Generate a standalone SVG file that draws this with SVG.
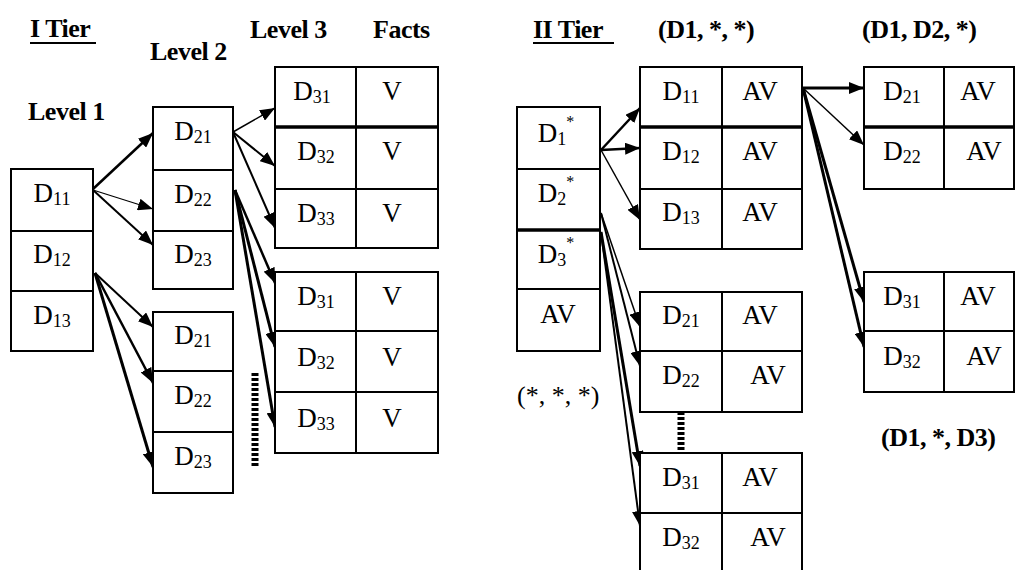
<svg xmlns="http://www.w3.org/2000/svg" width="1016" height="570" viewBox="0 0 1016 570">
<style>
.box{fill:#fff;stroke:#000;stroke-width:2}
.div{stroke:#000;stroke-width:2}
.thk{stroke:#000;stroke-width:3.5}
text{font-family:'Liberation Serif','Times New Roman','DejaVu Serif',serif;fill:#000}
.c{font-size:27px;text-anchor:middle}
.s{font-size:18px}
.lb{font-size:26px;font-weight:bold;letter-spacing:-0.5px}
.lr{font-size:26px}
.a{stroke:#000;fill:none;marker-end:url(#ah)}
.dot{stroke:#000;fill:none;stroke-dasharray:3 2}
</style>
<defs>
<marker id="ah" markerUnits="userSpaceOnUse" markerWidth="15" markerHeight="12" refX="15" refY="6" orient="auto">
<path d="M0,0 L15,6 L0,12 z" fill="#000"/>
</marker>
</defs>
<rect width="1016" height="570" fill="#fff"/>

<g id="labels">
<text class="lb" x="30" y="37">I Tier</text>
<line x1="30" y1="43" x2="96" y2="43" stroke="#000" stroke-width="2"/>
<text class="lb" x="150" y="60">Level 2</text>
<text class="lb" x="28" y="120">Level 1</text>
<text class="lb" x="250" y="38">Level 3</text>
<text class="lb" x="373" y="38">Facts</text>
<text class="lb" x="533" y="38">II Tier</text>
<line x1="533" y1="43" x2="614" y2="43" stroke="#000" stroke-width="2"/>
<text class="lb" x="658" y="38">(D1, *, *)</text>
<text class="lb" x="862" y="38">(D1, D2, *)</text>
<text class="lb" x="881" y="446">(D1, *, D3)</text>
<text class="lr" x="517" y="404">(*, *, *)</text>
</g>

<g id="connectors">
<path class="a" stroke-width="2.5" d="M93,189 L153,133"/>
<path class="a" stroke-width="1.2" d="M93,190 L153,209"/>
<path class="a" stroke-width="2" d="M93,190 L153,245"/>
<path class="a" stroke-width="2" d="M95,273 L153,327"/>
<path class="a" stroke-width="2.5" d="M95,273 L153,383"/>
<path class="a" stroke-width="3" d="M95,273 L153,467"/>
<path class="a" stroke-width="1.5" d="M233,132 L275,108"/>
<path class="a" stroke-width="2" d="M233,132 L275,166"/>
<path class="a" stroke-width="2" d="M233,132 L275,228"/>
<path class="a" stroke-width="2.5" d="M235,190 L275,283"/>
<path class="a" stroke-width="3" d="M235,190 L275,347"/>
<path class="a" stroke-width="3" d="M235,190 L275,427"/>
<path class="dot" stroke-width="7" d="M255,373 L255,468"/>

<path class="a" stroke-width="2.5" d="M601,150 L640,108"/>
<path class="a" stroke-width="2.5" d="M601,150 L640,148"/>
<path class="a" stroke-width="1.5" d="M601,150 L640,220"/>
<path class="a" stroke-width="1.5" d="M601,213 L640,327"/>
<path class="a" stroke-width="2" d="M601,213 L640,366"/>
<path class="a" stroke-width="3" d="M601,232 L640,466"/>
<path class="a" stroke-width="2" d="M601,232 L640,526"/>
<path class="dot" stroke-width="7" d="M681,412 L681,453"/>

<path class="a" stroke-width="3" d="M803,88 L864,88"/>
<path class="a" stroke-width="1.5" d="M803,88 L864,145"/>
<path class="a" stroke-width="3" d="M803,88 L864,302"/>
<path class="a" stroke-width="3" d="M803,88 L864,347"/>
</g>

<g id="level1">
<rect class="box" x="11" y="169" width="82" height="182"/>
<line class="div" x1="11" y1="231" x2="93" y2="231"/>
<line class="div" x1="11" y1="291" x2="93" y2="291"/>
<text class="c" x="52" y="202">D<tspan class="s" dy="3">11</tspan></text>
<text class="c" x="52" y="263">D<tspan class="s" dy="3">12</tspan></text>
<text class="c" x="52" y="324">D<tspan class="s" dy="3">13</tspan></text>
</g>

<g id="level2a">
<rect class="box" x="153" y="107" width="80" height="182"/>
<line class="div" x1="153" y1="170" x2="233" y2="170"/>
<line class="div" x1="153" y1="231" x2="233" y2="231"/>
<text class="c" x="193" y="140">D<tspan class="s" dy="3">21</tspan></text>
<text class="c" x="193" y="203">D<tspan class="s" dy="3">22</tspan></text>
<text class="c" x="193" y="263">D<tspan class="s" dy="3">23</tspan></text>
</g>

<g id="level2b">
<rect class="box" x="153" y="312" width="80" height="181"/>
<line class="div" x1="153" y1="371" x2="233" y2="371"/>
<line class="div" x1="153" y1="432" x2="233" y2="432"/>
<text class="c" x="193" y="344">D<tspan class="s" dy="3">21</tspan></text>
<text class="c" x="193" y="404">D<tspan class="s" dy="3">22</tspan></text>
<text class="c" x="193" y="465">D<tspan class="s" dy="3">23</tspan></text>
</g>

<g id="level3a">
<rect class="box" x="275" y="67" width="163" height="181"/>
<line class="div" x1="356" y1="67" x2="356" y2="248"/>
<line class="thk" x1="275" y1="127" x2="438" y2="127"/>
<line class="div" x1="275" y1="189" x2="438" y2="189"/>
<text class="c" x="312" y="100">D<tspan class="s" dy="3">31</tspan></text>
<text class="c" x="316" y="160">D<tspan class="s" dy="3">32</tspan></text>
<text class="c" x="316" y="222">D<tspan class="s" dy="3">33</tspan></text>
<text class="c" x="392" y="100">V</text>
<text class="c" x="392" y="160">V</text>
<text class="c" x="392" y="222">V</text>
</g>

<g id="level3b">
<rect class="box" x="275" y="272" width="163" height="181"/>
<line class="div" x1="356" y1="272" x2="356" y2="453"/>
<line class="div" x1="275" y1="331" x2="438" y2="331"/>
<line class="div" x1="275" y1="392" x2="438" y2="392"/>
<text class="c" x="316" y="305">D<tspan class="s" dy="3">31</tspan></text>
<text class="c" x="316" y="366">D<tspan class="s" dy="3">32</tspan></text>
<text class="c" x="316" y="427">D<tspan class="s" dy="3">33</tspan></text>
<text class="c" x="392" y="305">V</text>
<text class="c" x="392" y="366">V</text>
<text class="c" x="392" y="427">V</text>
</g>

<g id="tier2root">
<rect class="box" x="517" y="107" width="83" height="244"/>
<line class="div" x1="517" y1="169" x2="600" y2="169"/>
<line class="thk" x1="517" y1="230" x2="600" y2="230"/>
<line class="div" x1="517" y1="289" x2="600" y2="289"/>
<text class="c" x="556" y="142">D<tspan class="s" dy="3">1</tspan><tspan font-size="16" dy="-18">*</tspan></text>
<text class="c" x="556" y="202">D<tspan class="s" dy="3">2</tspan><tspan font-size="16" dy="-18">*</tspan></text>
<text class="c" x="556" y="263">D<tspan class="s" dy="3">3</tspan><tspan font-size="16" dy="-18">*</tspan></text>
<text class="c" x="558" y="323">AV</text>
</g>

<g id="d1table">
<rect class="box" x="640" y="67" width="162" height="182"/>
<line class="div" x1="722" y1="67" x2="722" y2="249"/>
<line class="thk" x1="640" y1="127" x2="802" y2="127"/>
<line class="div" x1="640" y1="189" x2="802" y2="189"/>
<text class="c" x="681" y="100">D<tspan class="s" dy="3">11</tspan></text>
<text class="c" x="681" y="160">D<tspan class="s" dy="3">12</tspan></text>
<text class="c" x="681" y="221">D<tspan class="s" dy="3">13</tspan></text>
<text class="c" x="760" y="100">AV</text>
<text class="c" x="760" y="160">AV</text>
<text class="c" x="760" y="221">AV</text>
</g>

<g id="d2table">
<rect class="box" x="640" y="292" width="162" height="120"/>
<line class="div" x1="722" y1="292" x2="722" y2="412"/>
<line class="div" x1="640" y1="351" x2="802" y2="351"/>
<text class="c" x="681" y="324">D<tspan class="s" dy="3">21</tspan></text>
<text class="c" x="681" y="384">D<tspan class="s" dy="3">22</tspan></text>
<text class="c" x="760" y="324">AV</text>
<text class="c" x="768" y="384">AV</text>
</g>

<g id="d3table">
<rect class="box" x="640" y="453" width="162" height="120"/>
<line class="div" x1="722" y1="453" x2="722" y2="573"/>
<line class="div" x1="640" y1="513" x2="802" y2="513"/>
<text class="c" x="681" y="486">D<tspan class="s" dy="3">31</tspan></text>
<text class="c" x="681" y="546">D<tspan class="s" dy="3">32</tspan></text>
<text class="c" x="760" y="486">AV</text>
<text class="c" x="768" y="546">AV</text>
</g>

<g id="d1d2table">
<rect class="box" x="864" y="67" width="150" height="122"/>
<line class="div" x1="944" y1="67" x2="944" y2="189"/>
<line class="thk" x1="864" y1="127" x2="1014" y2="127"/>
<text class="c" x="902" y="100">D<tspan class="s" dy="3">21</tspan></text>
<text class="c" x="902" y="160">D<tspan class="s" dy="3">22</tspan></text>
<text class="c" x="978" y="100">AV</text>
<text class="c" x="984" y="160">AV</text>
</g>

<g id="d1d3table">
<rect class="box" x="864" y="272" width="150" height="120"/>
<line class="div" x1="944" y1="272" x2="944" y2="392"/>
<line class="div" x1="864" y1="331" x2="1014" y2="331"/>
<text class="c" x="902" y="305">D<tspan class="s" dy="3">31</tspan></text>
<text class="c" x="902" y="365">D<tspan class="s" dy="3">32</tspan></text>
<text class="c" x="978" y="305">AV</text>
<text class="c" x="984" y="365">AV</text>
</g>
</svg>
